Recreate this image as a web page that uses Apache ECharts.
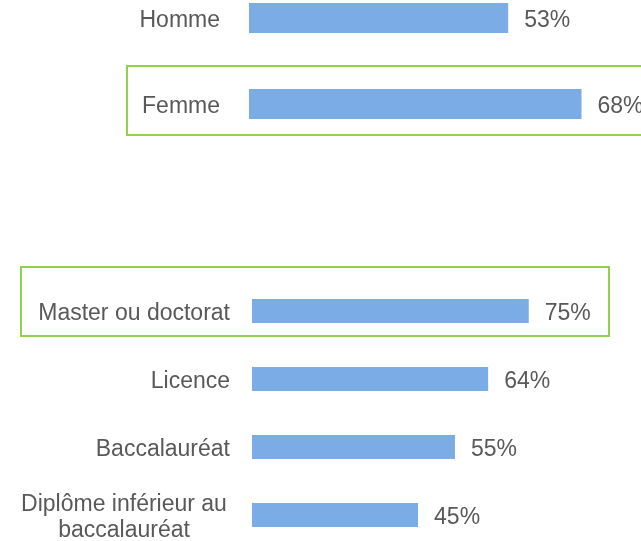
<!DOCTYPE html>
<html>
<head>
<meta charset="utf-8">
<style>
  html, body { margin: 0; padding: 0; background: #fff; }
  #chart { width: 641px; height: 541px; }
</style>
<script src="https://cdn.jsdelivr.net/npm/echarts@6/dist/echarts.min.js"></script>
</head>
<body>
<div id="chart"></div>
<script>
// sexe
const genreCats = ['Homme', 'Femme']
const genreVals = [53, 68]
// diplôme
const diplomeCats = ['Master ou doctorat', 'Licence', 'Baccalauréat', 'Diplôme inférieur au\nbaccalauréat']
const diplomeVals = [75, 64, 55, 45]

const textColor = '#595959'
const barColor = '#7bace5'
const boxColor = '#92d050'
const font = 'Liberation Sans, Arial, sans-serif'
const fs = 23

const chart = echarts.init(document.getElementById('chart'))

function catAxis(gridIndex, cats, margin) {
  return {
    type: 'category',
    gridIndex: gridIndex,
    data: cats,
    inverse: true,
    axisLine: { show: false },
    axisTick: { show: false },
    splitLine: { show: false },
    axisLabel: {
      color: textColor,
      fontFamily: font,
      fontSize: fs,
      margin: margin,
      padding: [5, 0, 0, 0],
      formatter: function (v) {
        if (v.indexOf('\n') >= 0) {
          return v.split('\n').map(s => '{c|' + s + '}').join('\n')
        }
        return v
      },
      rich: {
        c: { width: 212, align: 'center', fontSize: fs, lineHeight: 26, color: textColor, fontFamily: font }
      }
    }
  }
}

function valAxis(gridIndex) {
  return {
    type: 'value',
    gridIndex: gridIndex,
    min: 0,
    max: 100,
    show: false,
    splitLine: { show: false }
  }
}

function barSeries(idx, vals, width) {
  return {
    type: 'bar',
    xAxisIndex: idx,
    yAxisIndex: idx,
    data: vals,
    barWidth: width,
    itemStyle: { color: barColor },
    label: {
      show: true,
      position: 'right',
      distance: 16,
      offset: [0, 3],
      color: textColor,
      fontFamily: font,
      fontSize: fs,
      formatter: '{c}%'
    },
    animation: false
  }
}

chart.setOption({
  backgroundColor: '#fff',
  grid: [
    { left: 249, top: -25, width: 489, height: 172, outerBoundsMode: 'none', containLabel: false },
    { left: 252, top: 277, width: 369, height: 272, outerBoundsMode: 'none', containLabel: false }
  ],
  xAxis: [valAxis(0), valAxis(1)],
  yAxis: [catAxis(0, genreCats, 29), catAxis(1, diplomeCats, 22)],
  series: [barSeries(0, genreVals, 30), barSeries(1, diplomeVals, 24)],
  graphic: [
    {
      type: 'rect',
      shape: { x: 127, y: 66, width: 525, height: 69 },
      style: { fill: 'none', stroke: boxColor, lineWidth: 2 },
      silent: true
    },
    {
      type: 'rect',
      shape: { x: 21, y: 267, width: 588, height: 69 },
      style: { fill: 'none', stroke: boxColor, lineWidth: 2 },
      silent: true
    }
  ]
})
</script>
</body>
</html>
